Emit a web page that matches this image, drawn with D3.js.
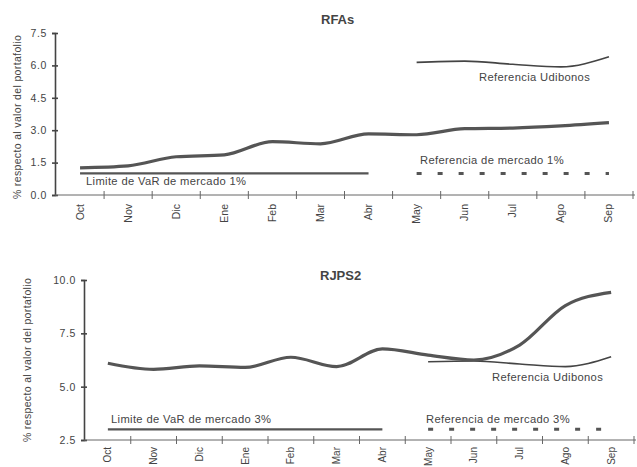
<!DOCTYPE html>
<html><head><meta charset="utf-8">
<script src="https://cdn.jsdelivr.net/npm/d3@7"></script>
<style>
body{margin:0;background:#fff;}
text{font-family:Arial,"Liberation Sans",sans-serif;fill:#444;}
</style></head>
<body><svg id="c" width="637" height="467"></svg>
<script>
const months = ["Oct","Nov","Dic","Ene","Feb","Mar","Abr","May","Jun","Jul","Ago","Sep"];
// RFAs panel
const rfasValues = [1.26,1.35,1.77,1.86,2.47,2.37,2.83,2.79,3.07,3.10,3.20,3.35];
const rfasUdibonos = [null,null,null,null,null,null,null,6.14,6.20,6.05,5.93,6.40];
const rfasLimite = [1,1,1,1,1,1,1,null,null,null,null,null];
const rfasRefMercado = [null,null,null,null,null,null,null,1,1,1,1,1];
const rfasTicks = [0,1.5,3,4.5,6,7.5];
// RJPS2 panel
const rjpsValues = [6.10,5.81,5.97,5.90,6.38,5.94,6.77,6.48,6.25,6.95,8.80,9.42];
const rjpsUdibonos = [null,null,null,null,null,null,null,6.17,6.20,6.06,5.94,6.40];
const rjpsLimite = [3,3,3,3,3,3,3,null,null,null,null,null];
const rjpsRefMercado = [null,null,null,null,null,null,null,3,3,3,3,3];
const rjpsTicks = [2.5,5,7.5,10];

const svg = d3.select("#c");
const col = "#444";

function panel(cfg){
  const g = svg.append("g");
  const x = d3.scaleBand().domain(months).range([cfg.x0, cfg.x1]).padding(0);
  const y = d3.scaleLinear().domain(cfg.ydom).range([cfg.yb, cfg.yt]);
  const cx = m => x(m) + x.bandwidth()/2;
  // y axis
  const ya = d3.axisLeft(y).tickValues(cfg.ticks).tickFormat(d3.format(".1f")).tickSize(3).tickPadding(5);
  const yg = g.append("g").attr("transform",`translate(${cfg.x0-1},0)`).call(ya);
  yg.select(".domain").attr("stroke",col).attr("stroke-width",1.6);
  yg.selectAll(".tick line").attr("x1",-3).attr("x2",3).attr("stroke",col).attr("stroke-width",1.6);
  yg.selectAll(".tick text").attr("font-size",10.5).attr("letter-spacing",0.6).attr("fill","#555").attr("font-family","Arial, Liberation Sans");
  // x axis line
  g.append("line").attr("x1",cfg.x0-1).attr("x2",cfg.x1+2).attr("y1",cfg.yb).attr("y2",cfg.yb).attr("stroke","#666").attr("stroke-width",1);
  g.selectAll(".xt").data(months).enter().append("line")
    .attr("x1",d=>x(d)+x.step()).attr("x2",d=>x(d)+x.step())
    .attr("y1",cfg.yb-4).attr("y2",cfg.yb+4).attr("stroke","#666").attr("stroke-width",1);
  g.selectAll(".xl").data(months).enter().append("text")
    .attr("transform",d=>`translate(${cx(d)+3.5},${cfg.yb+cfg.xlOff}) rotate(-90)`)
    .attr("text-anchor","end").attr("font-size",cfg.xlSize).attr("fill","#555").text(d=>d);
  // y label
  g.append("text").attr("transform",`translate(${cfg.ylx},${cfg.yly}) rotate(-90)`)
    .attr("text-anchor","middle").attr("font-size",10.5).attr("letter-spacing",0.35).attr("fill","#666").text("% respecto al valor del portafolio");
  // title
  g.append("text").attr("x",cfg.tx).attr("y",cfg.ty).attr("font-size",13).attr("font-weight","bold").attr("fill","#333").text(cfg.title);
  const mk = (arr, curve) => d3.line().defined((d)=>d!=null).x((d,i)=>cx(months[i])).y(d=>y(d)).curve(curve);
  // limit line
  g.append("path").attr("d",mk(cfg.lim,d3.curveLinear)(cfg.lim)).attr("fill","none").attr("stroke","#555").attr("stroke-width",2.2);
  // dashed reference
  g.append("path").attr("d",mk(cfg.ref,d3.curveLinear)(cfg.ref)).attr("fill","none").attr("stroke","#555").attr("stroke-width",3).attr("stroke-dasharray","5,16");
  // udibonos
  g.append("path").attr("d",mk(cfg.udi,d3.curveMonotoneX)(cfg.udi)).attr("fill","none").attr("stroke","#444").attr("stroke-width",1.6);
  // main line
  g.append("path").attr("d",mk(cfg.vals,d3.curveMonotoneX)(cfg.vals)).attr("fill","none").attr("stroke","#555").attr("stroke-width",3.2);
  // labels
  cfg.labels.forEach(l=>g.append("text").attr("x",l[0]).attr("y",l[1]).attr("font-size",11.2).attr("letter-spacing",0.35).attr("fill","#555").text(l[2]));
}

panel({x0:56,x1:633,yb:195,yt:33,ydom:[0,7.5],ticks:rfasTicks,vals:rfasValues,udi:rfasUdibonos,lim:rfasLimite,ref:rfasRefMercado,
  ylx:21,yly:117,tx:321,ty:24,title:"RFAs",xlOff:9,xlSize:10.5,
  labels:[[86,185,"Limite de VaR de mercado 1%"],[420,164,"Referencia de mercado 1%"],[479,81,"Referencia Udibonos"]]});
panel({x0:85,x1:634,yb:440,yt:280,ydom:[2.5,10],ticks:rjpsTicks,vals:rjpsValues,udi:rjpsUdibonos,lim:rjpsLimite,ref:rjpsRefMercado,
  ylx:31,yly:360,tx:320,ty:280,title:"RJPS2",xlOff:7,xlSize:10,
  labels:[[111,423,"Limite de VaR de mercado 3%"],[426,423,"Referencia de mercado 3%"],[492,381,"Referencia Udibonos"]]});
</script></body></html>
